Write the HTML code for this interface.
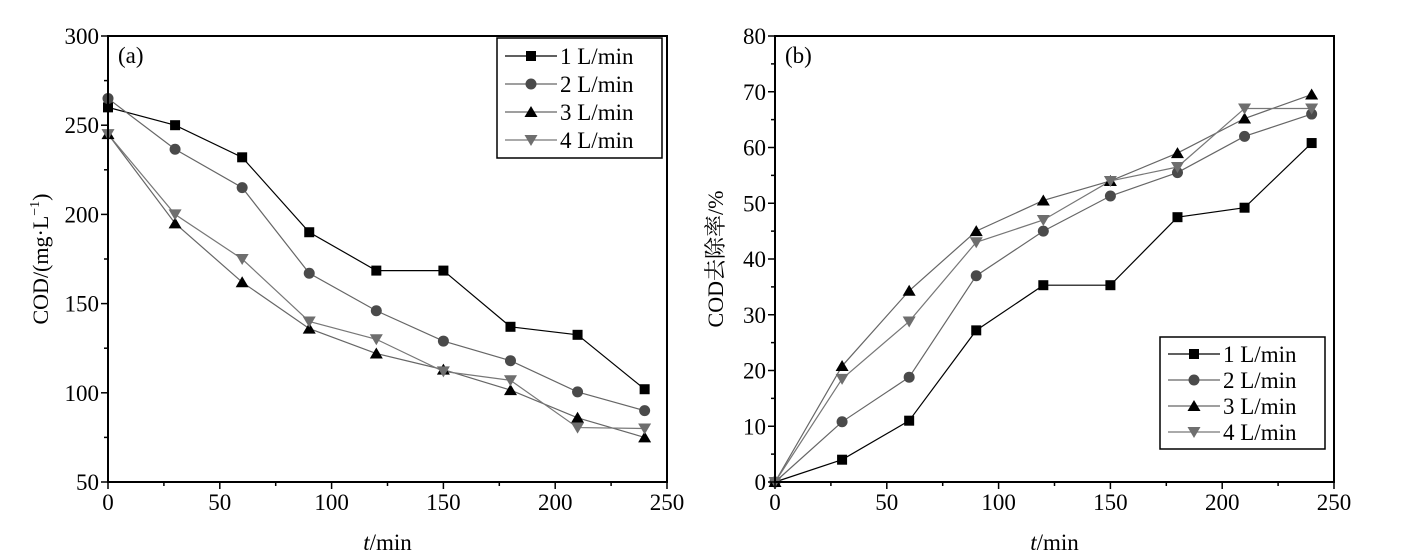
<!DOCTYPE html>
<html><head><meta charset="utf-8"><style>
html,body{margin:0;padding:0;background:#fff;}
svg{display:block;font-family:"Liberation Serif","Noto Serif CJK SC",serif;}
</style></head><body>
<svg id="s" width="1407" height="560" xmlns="http://www.w3.org/2000/svg"></svg>
<script>
const S=document.getElementById('s');let h='';
const T=[0,30,60,90,120,150,180,210,240];
const cols=['#000','#4a4a4a','#000','#6e6e6e'];
const lcols=['#000','#666','#666','#777'];
function mk(k,x,y,c){
 if(k==0)return `<rect x="${x-5}" y="${y-5}" width="10" height="10" fill="${c}"/>`;
 if(k==1)return `<circle cx="${x}" cy="${y}" r="5.5" fill="${c}"/>`;
 if(k==2)return `<polygon points="${x},${y-6} ${x+6.5},${y+5} ${x-6.5},${y+5}" fill="${c}"/>`;
 return `<polygon points="${x},${y+6} ${x+6.5},${y-5} ${x-6.5},${y-5}" fill="${c}"/>`;
}
function panel(x0,x1,ymin,ymax,ystep,minor,data,lab,ylab,lg){
 const yt=36,yb=482;
 const X=t=>x0+(x1-x0)*t/250, Y=v=>yb-(yb-yt)*(v-ymin)/(ymax-ymin);
 data.forEach((d,k)=>{h+=`<polyline fill="none" stroke="${lcols[k]}" stroke-width="1.2" points="${d.map((v,i)=>X(T[i])+','+Y(v)).join(' ')}"/>`;});
 data.forEach((d,k)=>{d.forEach((v,i)=>h+=mk(k,X(T[i]),Y(v),cols[k]));});
 h+=`<rect x="${x0}" y="${yt}" width="${x1-x0}" height="${yb-yt}" fill="none" stroke="#000" stroke-width="2"/>`;
 for(let t=0;t<=250;t+=25){const x=X(t);h+=`<line x1="${x}" y1="${yb}" x2="${x}" y2="${yb+(t%50?4:7)}" stroke="#000" stroke-width="1.5"/>`;
  if(t%50==0)h+=`<text x="${x}" y="${yb+28}" font-size="23" text-anchor="middle">${t}</text>`;}
 for(let v=ymin;v<=ymax+1e-6;v+=minor){const y=Y(v);const maj=Math.abs((v-ymin)/ystep-Math.round((v-ymin)/ystep))<1e-6;
  h+=`<line x1="${x0-(maj?7:4)}" y1="${y}" x2="${x0}" y2="${y}" stroke="#000" stroke-width="1.5"/>`;
  if(maj)h+=`<text x="${x0-9}" y="${y+8}" font-size="23" text-anchor="end">${v}</text>`;}
 h+=`<text x="${x0+10}" y="${yt+27}" font-size="23">${lab}</text>`;
 h+=`<text x="${(x0+x1)/2}" y="${yb+68}" font-size="23" text-anchor="middle"><tspan font-style="italic">t</tspan>/min</text>`;
 h+=ylab;
 const [lx,ly]=lg;h+=`<rect x="${lx}" y="${ly}" width="165" height="${lg[2]}" fill="#fff" stroke="#000" stroke-width="1.5"/>`;
 const rh=(lg[2]-8)/4;
 for(let k=0;k<4;k++){const y=ly+4+rh*(k+0.5);h+=`<line x1="${lx+8}" y1="${y}" x2="${lx+60}" y2="${y}" stroke="${lcols[k]}" stroke-width="1.2"/>`+mk(k,lx+34,y,cols[k])+`<text x="${lx+63}" y="${y+8}" font-size="23">${k+1} L/min</text>`;}
}
panel(108,667,50,300,50,25,[
[260,250,232,190,168.5,168.5,137,132.5,102],
[265,236.5,215,167,146,129,118,100.5,90],
[245,195,162,136,122,113,101.5,86,75],
[245,200,175,140,130,112,107,80.5,80]],'(a)',
`<text transform="translate(48,259) rotate(-90)" font-size="22" text-anchor="middle">COD/(mg·L<tspan font-size="14" dy="-9">−1</tspan><tspan dy="9">)</tspan></text>`,[497,38,120]);
panel(775,1334,0,80,10,5,[
[0,4,11,27.2,35.3,35.3,47.5,49.2,60.8],
[0,10.8,18.8,37,45,51.3,55.5,62,66],
[0,20.8,34.3,45,50.5,54,59,65.2,69.5],
[0,18.5,28.8,43,47,54,56.5,67,67]],'(b)',
`<text transform="translate(723,259) rotate(-90)" font-size="22" text-anchor="middle">COD去除率/%</text>`,[1160,337,112]);
S.innerHTML=h;
</script>
</body></html>
